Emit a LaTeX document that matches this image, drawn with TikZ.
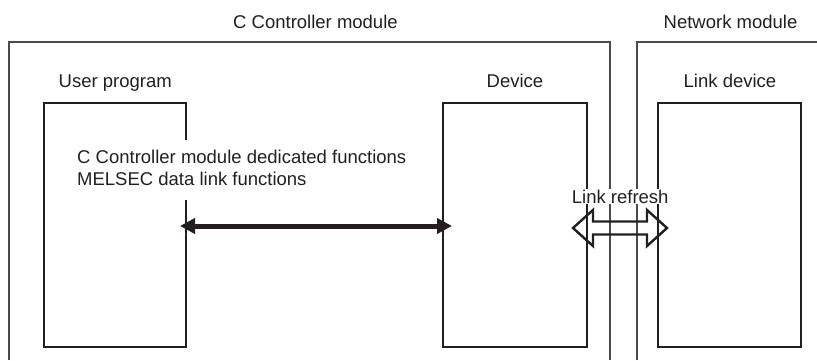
\documentclass[tikz,border=0pt]{standalone}
\usepackage{fontspec}
\setmainfont{Liberation Sans}
\usetikzlibrary{arrows.meta}
\definecolor{ink}{HTML}{231F20}
\definecolor{frame}{HTML}{4A4A4A}
\tikzset{
  lbl/.style={anchor=base west, inner sep=0pt, text=ink, font=\fontsize{18.5}{22}\selectfont},
  box/.style={draw=ink, line width=1.8pt, minimum width=#1, minimum height=244pt, inner sep=0pt},
  module/.style={draw=frame, line width=1.4pt},
  thick arrow/.style={draw=ink, line width=5pt, {Triangle[length=15pt,width=15pt]}-{Triangle[length=15pt,width=15pt]}},
  hollow/.style={draw=ink, line width=2.4pt, line join=miter}
}
\begin{document}
\begin{tikzpicture}[x=1pt,y=-1pt]
\useasboundingbox (0,0) rectangle (817,360);
% module frames
\draw[module] (9,360) -- (9,42) -- (610,42) -- (610,360);
\draw[module] (637,360) -- (637,42) -- (817,42);
% titles
\node[lbl] (tcc) at (233,28.5) {C Controller module};
\node[lbl] (tnm) at (663.5,28.5) {Network module};
\node[lbl] (tup) at (58.5,87.5) {User program};
\node[lbl] (tdev) at (486.5,87.5) {Device};
\node[lbl] (tld) at (683.5,87.5) {Link device};
% boxes
\node[box=142pt] (up) at (115,225) {};
\node[box=144pt] (dev) at (515,225) {};
\node[box=143pt] (ld) at (729.5,225) {};
% gap in the user program box edge behind the text
\fill[white] (182,140) rectangle (190,200);
% functions text
\node[lbl] (f1) at (77,163) {C Controller module dedicated functions};
\node[lbl] (f2) at (77,185) {MELSEC data link functions};
% thick double arrow
\coordinate (al) at (180,226);
\coordinate (ar) at (452,226);
\draw[thick arrow] (al) -- (ar);
% link refresh label
\node[lbl, fill=white, inner sep=1pt] (lr) at (570.7,203) {Link refresh};
% hollow double arrow
\draw[hollow] (573,228) -- (593,210) -- (593,221.5) -- (647,221.5) -- (647,210) -- (667,228)
  -- (647,246) -- (647,234.5) -- (593,234.5) -- (593,246) -- cycle;
\end{tikzpicture}
\end{document}
